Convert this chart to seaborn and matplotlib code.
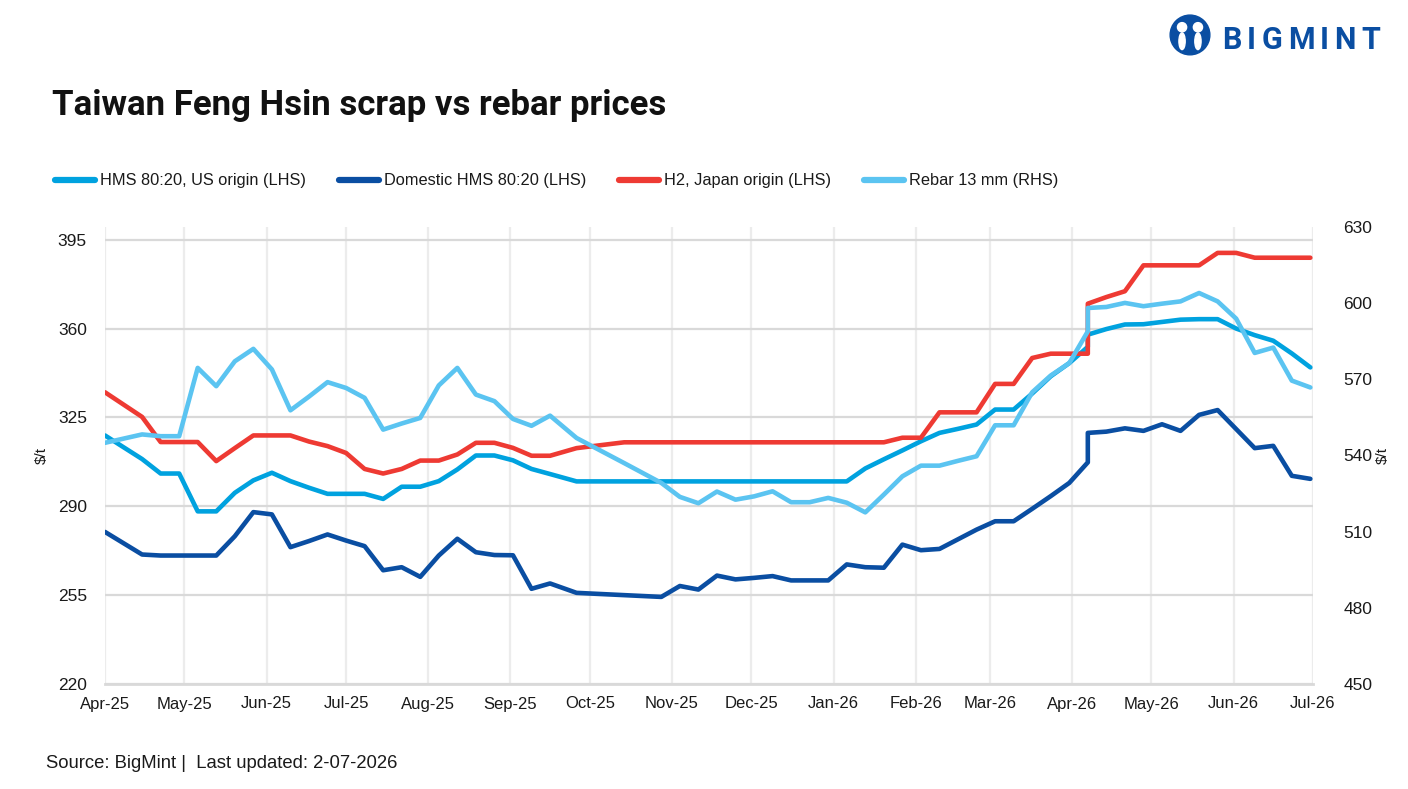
import matplotlib
matplotlib.use("Agg")
import matplotlib.pyplot as plt
import matplotlib.dates as mdates
from matplotlib.lines import Line2D
from matplotlib.patches import Circle, Ellipse
import seaborn as sns
import pandas as pd

# ---------------- data ----------------
dates = [
    "2025-04-01", "2025-04-15", "2025-04-22", "2025-04-29", "2025-05-06", "2025-05-13",
    "2025-05-20", "2025-05-27", "2025-06-03", "2025-06-10", "2025-06-17", "2025-06-24",
    "2025-07-01", "2025-07-08", "2025-07-15", "2025-07-22", "2025-07-29", "2025-08-05",
    "2025-08-12", "2025-08-19", "2025-08-26", "2025-09-02", "2025-09-09", "2025-09-16",
    "2025-09-26", "2025-10-14", "2025-10-28", "2025-11-04", "2025-11-11", "2025-11-18",
    "2025-11-25", "2025-12-02", "2025-12-09", "2025-12-16", "2025-12-23", "2025-12-30",
    "2026-01-06", "2026-01-13", "2026-01-20", "2026-01-27", "2026-02-03", "2026-02-10",
    "2026-02-17", "2026-02-24", "2026-03-03", "2026-03-10", "2026-03-17", "2026-03-24",
    "2026-03-31", "2026-04-07", "2026-04-07", "2026-04-14", "2026-04-21", "2026-04-28",
    "2026-05-05", "2026-05-12", "2026-05-19", "2026-05-26", "2026-06-02", "2026-06-09",
    "2026-06-16", "2026-06-23", "2026-06-30",
]

hms_us = [
    317.9, 308.6, 302.9, 302.9, 288.0, 288.0, 295.3, 300.2, 303.2, 299.9, 297.3, 294.9,
    294.9, 294.9, 292.9, 297.7, 297.7, 299.9, 304.5, 310.0, 310.0, 308.1, 304.7, 302.7,
    299.8, 299.8, 299.8, 299.8, 299.8, 299.8, 299.8, 299.8, 299.8, 299.8, 299.8, 299.8,
    299.8, 304.9, 308.5, 312.0, 315.6, 318.9, 320.5, 322.2, 328.1, 328.1, 334.4, 341.2,
    346.4, 352.8, 357.6, 359.8, 361.6, 361.7, 362.6, 363.5, 363.7, 363.7, 360.0, 357.4,
    355.2, 350.2, 344.7,
]

domestic_hms = [
    279.9, 271.0, 270.6, 270.6, 270.6, 270.6, 278.2, 287.7, 286.8, 273.9, 276.3, 278.9,
    276.5, 274.3, 264.8, 266.0, 262.2, 270.6, 277.2, 271.9, 270.8, 270.7, 257.5, 259.6,
    255.9, 255.0, 254.3, 258.6, 257.2, 262.7, 261.2, 261.8, 262.5, 260.8, 260.8, 260.8,
    267.1, 266.0, 265.8, 274.9, 272.7, 273.2, 277.0, 280.8, 284.1, 284.1, 289.0, 294.0,
    299.2, 307.3, 318.9, 319.4, 320.7, 319.7, 322.3, 319.7, 326.0, 327.9, 320.4, 312.9,
    313.8, 302.0, 300.8,
]

h2_japan = [
    334.9, 325.2, 315.3, 315.3, 315.3, 307.8, 312.9, 317.9, 317.9, 317.9, 315.5, 313.7,
    311.0, 304.7, 302.9, 304.7, 308.0, 308.0, 310.4, 315.0, 315.0, 313.0, 309.9, 309.9,
    312.9, 315.2, 315.2, 315.2, 315.2, 315.2, 315.2, 315.2, 315.2, 315.2, 315.2, 315.2,
    315.2, 315.2, 315.2, 317.0, 317.0, 327.0, 327.0, 327.0, 338.2, 338.2, 348.4, 350.1,
    350.1, 350.1, 369.8, 372.4, 374.7, 384.9, 384.9, 384.9, 384.9, 389.8, 389.8, 387.9,
    387.9, 387.9, 387.9,
]

rebar_13mm = [
    545.0, 548.3, 547.6, 547.6, 574.5, 567.3, 577.1, 582.0, 573.9, 557.8, 563.2, 568.9,
    566.6, 562.7, 550.2, 552.6, 554.8, 567.6, 574.5, 564.0, 561.4, 554.4, 551.7, 555.7,
    546.9, 537.0, 529.2, 523.7, 521.2, 525.8, 522.6, 523.9, 525.9, 521.6, 521.6, 523.3,
    521.4, 517.6, 524.6, 531.8, 536.0, 536.0, 537.9, 539.7, 551.9, 551.9, 564.9, 571.5,
    576.4, 588.9, 598.1, 598.5, 600.1, 598.8, 599.8, 600.7, 604.0, 600.7, 593.9, 580.4,
    582.5, 569.5, 566.8,
]

series_labels = ["HMS 80:20, US origin (LHS)", "Domestic HMS 80:20 (LHS)",
                 "H2, Japan origin (LHS)", "Rebar 13 mm (RHS)"]
left_ticks = [220, 255, 290, 325, 360, 395]
right_ticks = [450, 480, 510, 540, 570, 600, 630]

C_HMS = "#00a2df"
C_DOM = "#0a4ea2"
C_H2 = "#ee3a33"
C_REB = "#5bc4f1"

# ---------------- figure ----------------
sns.set_theme(style="white")
plt.rcParams['font.family'] = ['Liberation Sans', 'DejaVu Sans']

W, H = 1408, 789
fig = plt.figure(figsize=(W / 100, H / 100), dpi=100)
fig.patch.set_facecolor("white")
ax = fig.add_axes([105 / W, 1 - 684 / H, (1313 - 105) / W, (684 - 227) / H])
ax2 = ax.twinx()

df = pd.DataFrame({
    "date": pd.to_datetime(dates),
    "hms": hms_us,
    "dom": domestic_hms,
    "h2": h2_japan,
    "rebar": rebar_13mm,
})

common = dict(estimator=None, sort=False, legend=False, linewidth=3.3)
sns.lineplot(data=df, x="date", y="hms", ax=ax, color=C_HMS, **common)
sns.lineplot(data=df, x="date", y="dom", ax=ax, color=C_DOM, **common)
sns.lineplot(data=df, x="date", y="h2", ax=ax, color=C_H2, **common)
sns.lineplot(data=df, x="date", y="rebar", ax=ax2, color=C_REB, **common)

ax.set_xlim(pd.Timestamp("2025-04-01"), pd.Timestamp("2026-07-01"))
ax.set_ylim(220, 400)
ax2.set_ylim(450, 630)
ax.set_yticks(left_ticks)
ax2.set_yticks(right_ticks)
ax.set_xticks(pd.date_range("2025-04-01", "2026-07-01", freq="MS"))
ax.xaxis.set_major_formatter(mdates.DateFormatter("%b-%y"))

ax.set_axisbelow(True)
ax.grid(axis="y", color="#d9d9d9", linewidth=1.6)
ax.grid(axis="x", color="#ececec", linewidth=1.6)
ax2.grid(False)

for a in (ax, ax2):
    for s in a.spines.values():
        s.set_visible(False)
    a.set_xlabel("")
    a.set_ylabel("")
ax.spines["bottom"].set_visible(True)
ax.spines["bottom"].set_color("#d9d9d9")
ax.spines["bottom"].set_linewidth(2)

ax.tick_params(axis="y", length=0, pad=13, labelsize=12.5, labelcolor="#1a1a1a")
ax2.tick_params(axis="y", length=0, pad=22, labelsize=12.5, labelcolor="#1a1a1a")
ax.tick_params(axis="x", length=0, pad=9, labelsize=12, labelcolor="#1a1a1a")

# axis unit labels
fig.text(42 / W, 1 - 455 / H, "$/t", rotation=90, ha="center", va="center",
         fontsize=11, color="#1a1a1a")
fig.text(1383 / W, 1 - 455 / H, "$/t", rotation=90, ha="center", va="center",
         fontsize=11, color="#1a1a1a")

# legend
handles = [Line2D([0], [0], color=c, lw=4.5, solid_capstyle="round")
           for c in (C_HMS, C_DOM, C_H2, C_REB)]
fig.legend(handles, series_labels, loc="center left",
           bbox_to_anchor=(55 / W, 1 - 181 / H), ncol=4, frameon=False,
           fontsize=11.8, handlelength=2.45, handletextpad=0.3,
           columnspacing=2.0, borderaxespad=0, borderpad=0,
           labelcolor="#1a1a1a")

# title
fig.text(52 / W, 1 - 105 / H, "Taiwan Feng Hsin scrap vs rebar prices",
         fontsize=25, fontweight="bold", family=["Roboto", "DejaVu Sans"],
         ha="left", va="center", color="#111111")

# source
fig.text(46 / W, 1 - 764 / H, "Source: BigMint |  Last updated: 2-07-2026",
         fontsize=13.3, ha="left", va="center", color="#1a1a1a")

# logo
lax = fig.add_axes([1168 / W, 1 - 59 / H, 44 / W, 46 / H])
lax.set_xlim(-1.05, 1.05)
lax.set_ylim(-1.1, 1.1)
lax.set_aspect("equal")
lax.axis("off")
lax.add_patch(Circle((0, 0.05), 0.95, color=C_DOM))
lax.add_patch(Circle((-0.38, 0.42), 0.22, color="white"))
lax.add_patch(Circle((0.38, 0.42), 0.22, color="white"))
lax.add_patch(Ellipse((-0.38, -0.25), 0.3, 0.8, color="white"))
lax.add_patch(Ellipse((0.38, -0.25), 0.3, 0.8, color="white"))

renderer = fig.canvas.get_renderer()
x_px = 1222.0
for ch in "BIGMINT":
    t = fig.text(x_px / W, 1 - 40 / H, ch, fontsize=22, fontweight="bold",
                 family=["Roboto", "DejaVu Sans"], color=C_DOM,
                 ha="left", va="center")
    w = t.get_window_extent(renderer=renderer).width
    x_px += w + 5.5

fig.savefig("out.png", dpi=100, facecolor="white")
